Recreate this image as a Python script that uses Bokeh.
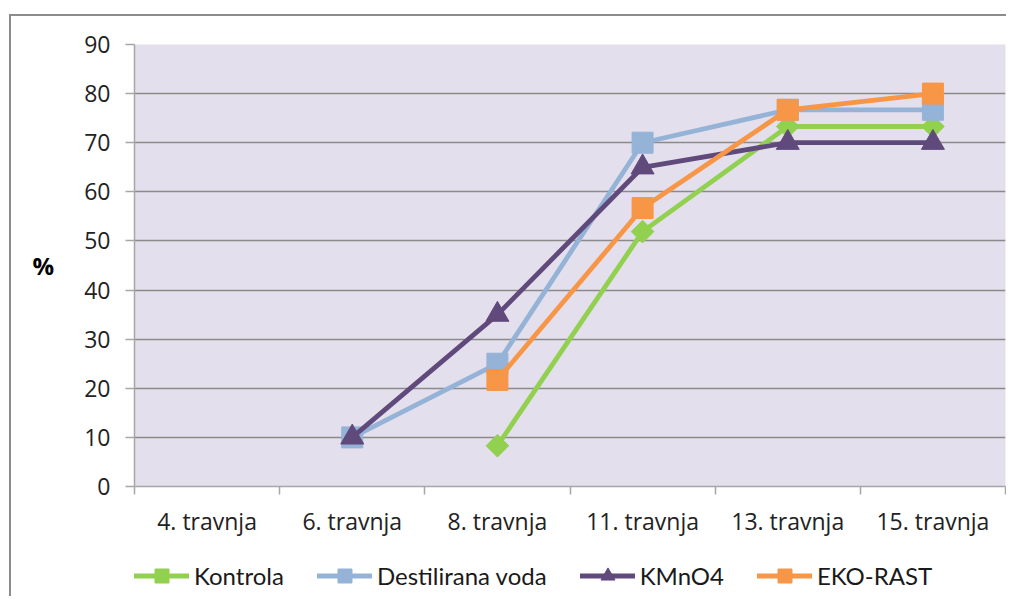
import math
from bokeh.plotting import figure
from bokeh.layouts import column
from bokeh.models import ColumnDataSource, FixedTicker, Legend, LegendItem, Range1d
from bokeh.embed import file_html
from bokeh.resources import INLINE

# ---- data ----
categories = ["4. travnja", "6. travnja", "8. travnja", "11. travnja", "13. travnja", "15. travnja"]
kontrola = [None, None, 8.3, 51.9, 73.3, 73.3]
destilirana_voda = [None, 10, 25, 70, 76.7, 76.7]
kmno4 = [None, 10, 35, 65, 70, 70]
eko_rast = [None, None, 21.7, 56.7, 76.7, 80]
series_names = ["Kontrola", "Destilirana voda", "KMnO4", "EKO-RAST"]
y_ticks = [0, 10, 20, 30, 40, 50, 60, 70, 80, 90]

series_values = [kontrola, destilirana_voda, kmno4, eko_rast]
colors = ["#92D050", "#95B3D7", "#604A7B", "#F79646"]
markers = ["square", "square", "triangle", "square"]
angles = [math.pi / 4, 0, 0, 0]
sizes = [16, 21, 23, 21]
legend_sizes = [10, 14, 15, 14]

FONT = "Open Sans"
LEGEND_FONT = "Lato"
BORDER = "2px solid #8c8c8c"

xs = [i + 0.5 for i in range(len(categories))]

p = figure(frame_width=869, frame_height=440,
           x_range=Range1d(0, len(categories)), y_range=Range1d(0, 90),
           output_backend="svg", toolbar_location=None,
           min_border_left=123, min_border_right=3, min_border_top=28, min_border_bottom=56,
           background_fill_color="#E4DFEC", border_fill_color="white",
           outline_line_color=None)
p.margin = (14, 0, 0, 9)
p.styles = {"border-left": BORDER, "border-top": BORDER}

# x axis
p.xaxis.ticker = FixedTicker(ticks=xs, minor_ticks=list(range(len(categories) + 1)))
p.xaxis.major_label_overrides = {x: c for x, c in zip(xs, categories)}
p.xaxis.major_tick_line_color = None
p.xaxis.minor_tick_line_color = "#a6a6a6"
p.xaxis.minor_tick_line_width = 1.5
p.xaxis.minor_tick_in = 0
p.xaxis.minor_tick_out = 8
p.xaxis.axis_line_color = "#a6a6a6"
p.xaxis.axis_line_width = 1.5
p.xaxis.major_label_standoff = 10
p.xaxis.major_label_text_font = FONT
p.xaxis.major_label_text_font_size = "23px"
p.xaxis.major_label_text_color = "#222222"

# y axis
p.yaxis.ticker = FixedTicker(ticks=y_ticks)
p.yaxis.minor_tick_line_color = None
p.yaxis.major_tick_in = 0
p.yaxis.major_tick_out = 9
p.yaxis.major_tick_line_color = "#a6a6a6"
p.yaxis.major_tick_line_width = 1.5
p.yaxis.axis_line_color = "#a6a6a6"
p.yaxis.axis_line_width = 1.5
p.yaxis.major_label_standoff = 15
p.yaxis.major_label_text_font = FONT
p.yaxis.major_label_text_font_size = "23px"
p.yaxis.major_label_text_color = "#222222"
p.yaxis.axis_label = "%"
p.yaxis.axis_label_orientation = "horizontal"
p.yaxis.axis_label_standoff = 27
p.yaxis.axis_label_text_font = FONT
p.yaxis.axis_label_text_font_size = "24px"
p.yaxis.axis_label_text_font_style = "bold"
p.yaxis.axis_label_text_color = "#000000"

p.xgrid.grid_line_color = None
p.ygrid.ticker = FixedTicker(ticks=y_ticks)
p.ygrid.grid_line_color = "#8a8a8a"
p.ygrid.grid_line_width = 1.5

# legend strip (separate figure right under the chart; its ranges keep the
# series data out of view so only the legend is visible)
leg = figure(width=995, height=56, output_backend="svg", toolbar_location=None,
             x_axis_location=None, y_axis_location=None,
             x_range=Range1d(-2, -1), y_range=Range1d(-2, -1),
             min_border_left=0, min_border_right=0, min_border_top=0, min_border_bottom=0,
             background_fill_color="white", border_fill_color="white",
             outline_line_color=None)
leg.margin = (0, 0, 0, 9)
leg.styles = {"border-left": BORDER}
leg.grid.visible = False

items = []
for name, vals, col, mk, ang, sz, lsz in zip(series_names, series_values, colors, markers, angles, sizes, legend_sizes):
    yv = [float("nan") if v is None else v for v in vals]
    src = ColumnDataSource(data=dict(x=xs, y=yv))
    p.line("x", "y", source=src, line_color=col, line_width=4.8,
           line_join="round", line_cap="round")
    p.scatter("x", "y", source=src, marker=mk, angle=ang, size=sz,
              fill_color=col, line_color=col, line_width=1)
    lr = leg.line("x", "y", source=src, line_color=col, line_width=4.8,
                  line_join="round", line_cap="round")
    mr = leg.scatter("x", "y", source=src, marker=mk, angle=ang, size=lsz,
                     fill_color=col, line_color=col, line_width=1)
    items.append(LegendItem(label=name, renderers=[lr, mr]))

legend = Legend(items=items, orientation="horizontal", location=(0, 3),
                spacing=33, glyph_width=55, glyph_height=35, label_standoff=5,
                padding=0, margin=0, border_line_color=None, background_fill_alpha=0,
                label_text_font=LEGEND_FONT, label_text_font_size="24px",
                label_text_color="#1a1a1a")
leg.add_layout(legend)

layout = column(p, leg, spacing=0)
open("out.html", "w").write(file_html(layout, INLINE))
